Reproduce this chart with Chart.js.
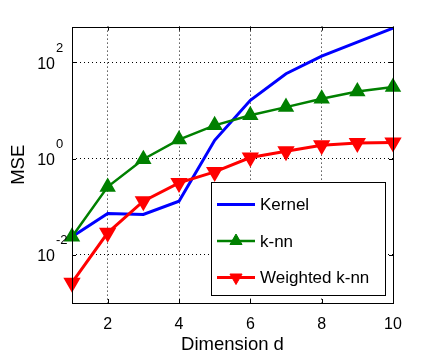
<!DOCTYPE html>
<html>
<head>
<meta charset="utf-8">
<script src="https://cdn.jsdelivr.net/npm/chart.js@4/dist/chart.umd.min.js"></script>
<style>
  html, body { margin: 0; padding: 0; background: #fff; }
</style>
</head>
<body>
<canvas id="mseChart" width="434" height="351"></canvas>
<script>
const dims = [1, 2, 3, 4, 5, 6, 7, 8, 9, 10];
const kernelMse = [0.0237, 0.0724, 0.069, 0.130, 2.39, 16.2, 57.8, 134, 261, 509];
const knnMse = [0.0237, 0.258, 0.97, 2.48, 4.9, 7.9, 11.7, 17.5, 24.8, 30.5];
const weightedMse = [0.00264, 0.0287, 0.130, 0.312, 0.528, 1.05, 1.42, 1.89, 2.11, 2.15];
const seriesNames = ['Kernel', 'k-nn', 'Weighted k-nn'];
const xTicks = [2, 4, 6, 8, 10];
const yTicks = [0.01, 1, 100];

const FONT = '"Liberation Sans", Arial, Helvetica, sans-serif';

function triangle(ctx, x, y, r, rot) {
  ctx.beginPath();
  for (let k = 0; k < 3; k++) {
    const a = rot + k * 2 * Math.PI / 3;
    const px = x + Math.sin(a) * r;
    const py = y - Math.cos(a) * r;
    if (k === 0) ctx.moveTo(px, py); else ctx.lineTo(px, py);
  }
  ctx.closePath();
  ctx.fill();
  ctx.stroke();
}

// box, inner tick marks, exponents of the y labels and the legend
const matlabFrame = {
  id: 'matlabFrame',
  afterDraw(chart) {
    const { ctx, chartArea: a } = chart;
    const xs = chart.scales.x, ys = chart.scales.y;
    ctx.save();
    ctx.strokeStyle = '#000';
    ctx.lineWidth = 1;
    ctx.beginPath();
    xTicks.forEach(v => {
      const px = Math.round(xs.getPixelForValue(v)) + 0.5;
      ctx.moveTo(px, a.bottom); ctx.lineTo(px, a.bottom - 4);
      ctx.moveTo(px, a.top); ctx.lineTo(px, a.top + 4);
    });
    yTicks.forEach(v => {
      const py = Math.round(ys.getPixelForValue(v)) + 0.5;
      ctx.moveTo(a.left, py); ctx.lineTo(a.left + 4, py);
      ctx.moveTo(a.right, py); ctx.lineTo(a.right - 4, py);
    });
    ctx.stroke();
    ctx.strokeRect(Math.round(a.left) + 0.5, Math.round(a.top) + 0.5,
      Math.round(a.right - a.left), Math.round(a.bottom - a.top));

    // exponents
    ctx.fillStyle = '#000';
    ctx.font = '13px ' + FONT;
    ctx.textAlign = 'left';
    ctx.textBaseline = 'middle';
    yTicks.forEach(v => {
      const py = ys.getPixelForValue(v);
      ctx.fillText(String(Math.round(Math.log10(v))), a.left - 16, py - 14);
    });

    // legend
    const w = 174, h = 113;
    const x0 = Math.round(a.right - 8 - w), y0 = Math.round(a.bottom - 8 - h);
    ctx.fillStyle = '#fff';
    ctx.fillRect(x0, y0, w, h);
    ctx.strokeStyle = '#000';
    ctx.lineWidth = 1;
    ctx.strokeRect(x0 + 0.5, y0 + 0.5, w, h);
    ctx.font = '17px ' + FONT;
    chart.data.datasets.forEach((ds, i) => {
      const y = y0 + 22.5 + i * 36.5;
      ctx.strokeStyle = ds.borderColor;
      ctx.lineWidth = ds.borderWidth;
      ctx.beginPath();
      ctx.moveTo(x0 + 6, y);
      ctx.lineTo(x0 + 44, y);
      ctx.stroke();
      if (ds.pointRadius > 0) {
        ctx.fillStyle = ds.borderColor;
        ctx.lineWidth = 1;
        triangle(ctx, x0 + 25, y, ds.pointRadius, (ds.pointRotation || 0) * Math.PI / 180);
      }
      ctx.fillStyle = '#000';
      ctx.fillText(ds.label, x0 + 49, y + 1);
    });
    ctx.restore();
  }
};

new Chart(document.getElementById('mseChart').getContext('2d'), {
  type: 'line',
  data: {
    labels: dims,
    datasets: [
      {
        label: seriesNames[0],
        data: dims.map((d, i) => ({ x: d, y: kernelMse[i] })),
        borderColor: '#0000ff',
        borderWidth: 3,
        pointRadius: 0,
        order: 3
      },
      {
        label: seriesNames[1],
        data: dims.map((d, i) => ({ x: d, y: knnMse[i] })),
        borderColor: '#008000',
        backgroundColor: '#008000',
        borderWidth: 2.5,
        pointStyle: 'triangle',
        pointRadius: 7,
        pointBackgroundColor: '#008000',
        pointBorderColor: '#008000',
        order: 2
      },
      {
        label: seriesNames[2],
        data: dims.map((d, i) => ({ x: d, y: weightedMse[i] })),
        borderColor: '#ff0000',
        backgroundColor: '#ff0000',
        borderWidth: 3,
        pointStyle: 'triangle',
        pointRotation: 180,
        pointRadius: 7,
        pointBackgroundColor: '#ff0000',
        pointBorderColor: '#ff0000',
        order: 1
      }
    ]
  },
  options: {
    responsive: false,
    animation: false,
    devicePixelRatio: 1,
    clip: false,
    layout: { padding: { top: 26, right: 41, left: 0, bottom: 0 } },
    plugins: {
      legend: { display: false },
      tooltip: { enabled: false }
    },
    scales: {
      x: {
        type: 'linear',
        min: 1,
        max: 10,
        afterBuildTicks: axis => { axis.ticks = xTicks.map(v => ({ value: v })); },
        afterFit: axis => { axis.height = 48; },
        grid: { color: '#000', lineWidth: 1, drawTicks: false },
        border: { display: false, dash: [1, 3] },
        ticks: { color: '#000', font: { family: FONT, size: 16 }, padding: 12, maxRotation: 0 },
        title: {
          display: true,
          text: 'Dimension d',
          color: '#000',
          font: { family: FONT, size: 18.5, lineHeight: 1 },
          padding: { top: 0, bottom: -3 }
        }
      },
      y: {
        type: 'logarithmic',
        min: 0.001,
        max: 550,
        afterBuildTicks: axis => { axis.ticks = yTicks.map(v => ({ value: v })); },
        afterFit: axis => { axis.width = 72; },
        grid: { color: '#000', lineWidth: 1, drawTicks: false },
        border: { display: false, dash: [1, 3] },
        ticks: { color: '#000', font: { family: FONT, size: 16 }, padding: 17, labelOffset: 2, callback: () => '10' },
        title: {
          display: true,
          text: 'MSE',
          color: '#000',
          font: { family: FONT, size: 18.5, lineHeight: 1.2 },
          padding: { top: 7.4, bottom: 0 }
        }
      }
    }
  },
  plugins: [matlabFrame]
});
</script>
</body>
</html>
